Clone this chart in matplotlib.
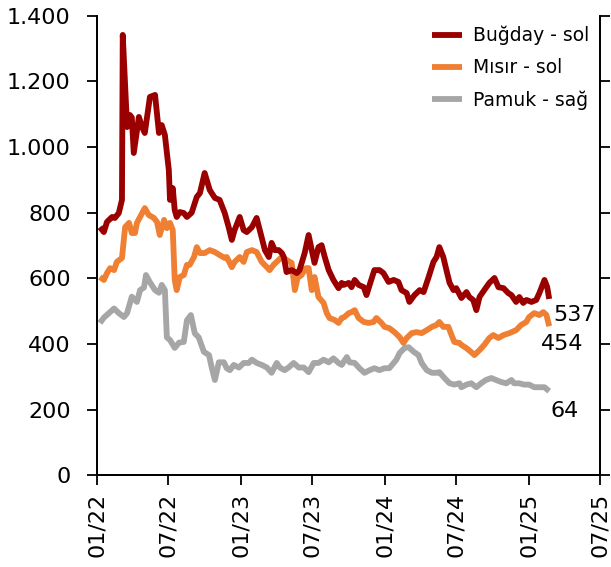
import matplotlib
matplotlib.use("Agg")
import matplotlib.pyplot as plt
import matplotlib.dates as mdates
from matplotlib.ticker import FuncFormatter
import pandas as pd

# Buğday (sol eksen)
bugday_tarih = ['2022-01-08', '2022-01-18', '2022-01-26', '2022-02-08', '2022-02-15', '2022-02-25',
                '2022-03-05', '2022-03-07', '2022-03-18', '2022-03-25', '2022-03-30', '2022-04-04',
                '2022-04-17', '2022-04-25', '2022-05-02', '2022-05-15', '2022-05-28', '2022-06-07',
                '2022-06-14', '2022-06-22', '2022-07-02', '2022-07-05', '2022-07-12', '2022-07-17',
                '2022-07-22', '2022-07-30', '2022-08-09', '2022-08-17', '2022-08-29', '2022-09-11',
                '2022-09-19', '2022-10-01', '2022-10-14', '2022-10-27', '2022-11-08', '2022-11-21',
                '2022-12-01', '2022-12-09', '2022-12-16', '2022-12-29', '2023-01-08', '2023-01-16',
                '2023-01-29', '2023-02-10', '2023-02-18', '2023-03-03', '2023-03-13', '2023-03-20',
                '2023-03-28', '2023-04-07', '2023-04-15', '2023-04-20', '2023-04-27', '2023-05-10',
                '2023-05-23', '2023-05-30', '2023-06-12', '2023-06-22', '2023-06-30', '2023-07-07',
                '2023-07-17', '2023-07-25', '2023-08-02', '2023-08-12', '2023-08-24', '2023-09-06',
                '2023-09-14', '2023-09-19', '2023-10-02', '2023-10-09', '2023-10-17', '2023-10-27',
                '2023-11-09', '2023-11-16', '2023-11-24', '2023-12-06', '2023-12-19', '2023-12-29',
                '2024-01-11', '2024-01-24', '2024-02-05', '2024-02-13', '2024-02-26', '2024-03-04',
                '2024-03-17', '2024-03-30', '2024-04-09', '2024-04-21', '2024-05-04', '2024-05-12',
                '2024-05-19', '2024-05-29', '2024-06-06', '2024-06-14', '2024-06-24', '2024-07-01',
                '2024-07-14', '2024-07-27', '2024-08-03', '2024-08-13', '2024-08-21', '2024-08-29',
                '2024-09-10', '2024-09-23', '2024-10-06', '2024-10-16', '2024-10-29', '2024-11-10',
                '2024-11-18', '2024-11-30', '2024-12-08', '2024-12-18', '2024-12-26', '2025-01-08',
                '2025-01-20', '2025-01-28', '2025-02-10', '2025-02-17', '2025-02-22']
bugday = [756, 741, 772, 787, 784, 799,
          839, 1342, 1061, 1098, 1090, 982,
          1092, 1061, 1043, 1153, 1159, 1043,
          1067, 1037, 930, 839, 875, 808,
          787, 802, 799, 787, 800, 848,
          860, 921, 869, 845, 839, 799,
          756, 717, 747, 787, 747, 741,
          756, 784, 747, 686, 665, 708,
          686, 686, 677, 665, 619, 625,
          616, 625, 677, 732, 686, 647,
          695, 701, 665, 625, 595, 570,
          586, 580, 586, 573, 595, 580,
          573, 549, 580, 625, 625, 616,
          589, 595, 589, 564, 555, 528,
          549, 564, 558, 601, 650, 665,
          695, 665, 625, 586, 564, 570,
          540, 558, 543, 534, 503, 543,
          564, 586, 601, 573, 570, 555,
          549, 528, 543, 525, 534, 528,
          534, 555, 595, 573, 537]

# Mısır (sol eksen)
misir_tarih = ['2022-01-08', '2022-01-18', '2022-01-26', '2022-02-03', '2022-02-13', '2022-02-20',
               '2022-03-05', '2022-03-13', '2022-03-23', '2022-03-30', '2022-04-07', '2022-04-12',
               '2022-04-20', '2022-05-02', '2022-05-12', '2022-05-25', '2022-06-02', '2022-06-09',
               '2022-06-20', '2022-06-27', '2022-07-05', '2022-07-12', '2022-07-17', '2022-07-22',
               '2022-07-30', '2022-08-09', '2022-08-17', '2022-08-24', '2022-09-04', '2022-09-11',
               '2022-09-19', '2022-10-01', '2022-10-14', '2022-10-27', '2022-11-08', '2022-11-21',
               '2022-11-26', '2022-12-09', '2022-12-16', '2022-12-29', '2023-01-08', '2023-01-16',
               '2023-01-29', '2023-02-10', '2023-02-23', '2023-03-08', '2023-03-15', '2023-03-25',
               '2023-04-07', '2023-04-15', '2023-04-27', '2023-05-10', '2023-05-18', '2023-05-25',
               '2023-06-04', '2023-06-15', '2023-06-22', '2023-06-30', '2023-07-07', '2023-07-17',
               '2023-07-30', '2023-08-07', '2023-08-14', '2023-08-27', '2023-09-06', '2023-09-14',
               '2023-09-21', '2023-10-02', '2023-10-09', '2023-10-17', '2023-10-27', '2023-11-09',
               '2023-11-21', '2023-12-04', '2023-12-11', '2023-12-24', '2024-01-01', '2024-01-13',
               '2024-01-26', '2024-02-08', '2024-02-18', '2024-02-26', '2024-03-10', '2024-03-22',
               '2024-04-04', '2024-04-17', '2024-04-30', '2024-05-12', '2024-05-19', '2024-05-29',
               '2024-06-11', '2024-06-19', '2024-06-26', '2024-07-09', '2024-07-14', '2024-07-27',
               '2024-08-08', '2024-08-16', '2024-08-29', '2024-09-10', '2024-09-23', '2024-10-03',
               '2024-10-16', '2024-10-29', '2024-11-13', '2024-11-30', '2024-12-13', '2024-12-26',
               '2025-01-02', '2025-01-15', '2025-01-28', '2025-02-07', '2025-02-15', '2025-02-22']
misir = [604, 595, 616, 631, 625, 650,
         662, 756, 769, 738, 738, 769,
         787, 814, 793, 784, 772, 732,
         778, 753, 769, 747, 595, 564,
         604, 610, 641, 641, 665, 695,
         677, 677, 686, 680, 671, 662,
         665, 634, 650, 665, 650, 680,
         686, 680, 650, 634, 625, 641,
         656, 665, 656, 647, 564, 601,
         610, 631, 631, 564, 604, 543,
         525, 494, 479, 473, 464, 479,
         482, 494, 497, 503, 479, 467,
         464, 467, 479, 464, 452, 448,
         436, 421, 403, 418, 433, 436,
         433, 442, 452, 458, 467, 452,
         452, 427, 406, 403, 397, 387,
         375, 366, 381, 397, 418, 427,
         418, 427, 433, 442, 458, 467,
         482, 494, 488, 497, 488, 454]

# Pamuk (sağ eksen)
pamuk_tarih = ['2022-01-08', '2022-01-18', '2022-01-31', '2022-02-13', '2022-02-25', '2022-03-10',
               '2022-03-18', '2022-03-30', '2022-04-12', '2022-04-20', '2022-04-30', '2022-05-05',
               '2022-05-15', '2022-05-28', '2022-06-07', '2022-06-14', '2022-06-22', '2022-06-27',
               '2022-07-05', '2022-07-17', '2022-07-28', '2022-08-09', '2022-08-17', '2022-08-27',
               '2022-09-06', '2022-09-16', '2022-09-29', '2022-10-12', '2022-10-19', '2022-10-27',
               '2022-11-06', '2022-11-19', '2022-11-26', '2022-12-04', '2022-12-14', '2022-12-27',
               '2023-01-08', '2023-01-21', '2023-01-29', '2023-02-10', '2023-02-23', '2023-03-08',
               '2023-03-20', '2023-04-02', '2023-04-10', '2023-04-22', '2023-05-02', '2023-05-15',
               '2023-05-28', '2023-06-10', '2023-06-22', '2023-07-05', '2023-07-17', '2023-07-30',
               '2023-08-12', '2023-08-24', '2023-09-06', '2023-09-14', '2023-09-27', '2023-10-04',
               '2023-10-17', '2023-10-29', '2023-11-11', '2023-11-24', '2023-12-06', '2023-12-19',
               '2024-01-01', '2024-01-13', '2024-01-24', '2024-01-31', '2024-02-08', '2024-02-21',
               '2024-03-02', '2024-03-15', '2024-03-27', '2024-04-04', '2024-04-17', '2024-04-30',
               '2024-05-12', '2024-05-19', '2024-06-01', '2024-06-14', '2024-06-26', '2024-07-09',
               '2024-07-14', '2024-07-27', '2024-08-08', '2024-08-21', '2024-09-02', '2024-09-14',
               '2024-09-28', '2024-10-10', '2024-10-23', '2024-11-05', '2024-11-18', '2024-11-25',
               '2024-12-08', '2024-12-20', '2025-01-02', '2025-01-15', '2025-01-28', '2025-02-10',
               '2025-02-22']
pamuk = [116, 120, 123.5, 127, 123.5, 120.5,
         123.5, 136, 132, 141, 143, 152.5,
         147, 141, 139, 145, 141, 105,
         103, 97, 101, 101.5, 118, 122,
         108, 105, 94, 91.5, 82, 72.5,
         86, 86, 81.5, 80, 84, 82,
         85.5, 85.5, 88, 85.5, 84, 82,
         78, 85.5, 82, 80, 82, 85.5,
         82, 82, 78.5, 85.5, 85.5, 88,
         86, 89, 85.5, 84, 90, 86,
         85.5, 81.5, 78, 80, 81.5, 80,
         81.5, 81.5, 85.5, 88, 93, 97,
         97.5, 94, 91.5, 85.5, 80, 78,
         78, 78.5, 74, 70, 69, 70,
         67, 69, 70, 67, 70, 72.5,
         74, 72.5, 71, 70, 72.5, 70,
         70, 69, 69, 67, 67, 67,
         64]

sol_ticks = [0, 200, 400, 600, 800, 1000, 1200, 1400]
sag_ticks = [0, 50, 100, 150, 200, 250, 300, 350]

renk_bugday = '#9A0000'
renk_misir = '#EF8033'
renk_pamuk = '#A6A6A6'

plt.rcParams['font.family'] = ['DejaVu Sans']

fig = plt.figure(figsize=(6.11, 5.67), dpi=100)
ax = fig.add_axes([0.159, 0.162, 0.823, 0.81])
ax2 = ax.twinx()

x_b = pd.to_datetime(bugday_tarih)
x_m = pd.to_datetime(misir_tarih)
x_p = pd.to_datetime(pamuk_tarih)

lw = 4.2
l1, = ax.plot(x_b, bugday, color=renk_bugday, lw=lw, solid_joinstyle='round', solid_capstyle='butt', label='Buğday - sol', zorder=3)
l2, = ax.plot(x_m, misir, color=renk_misir, lw=lw, solid_joinstyle='round', solid_capstyle='butt', label='Mısır - sol', zorder=2)
l3, = ax2.plot(x_p, pamuk, color=renk_pamuk, lw=lw, solid_joinstyle='round', solid_capstyle='butt', label='Pamuk - sağ')

# gray line behind the left-axis lines
ax.set_zorder(ax2.get_zorder() + 1)
ax.patch.set_visible(False)

ax.set_ylim(0, 1400)
ax.set_yticks(sol_ticks)
ax.yaxis.set_major_formatter(FuncFormatter(lambda v, p: f"{int(v):,}".replace(",", ".")))
ax2.set_ylim(0, 350)
ax2.set_yticks(sag_ticks)
ax2.set_yticklabels([])

ax.set_xlim(pd.Timestamp('2022-01-01'), pd.Timestamp('2025-07-01'))
ax.xaxis.set_major_locator(mdates.MonthLocator(bymonth=[1, 7]))
ax.xaxis.set_major_formatter(mdates.DateFormatter('%m/%y'))
plt.setp(ax.get_xticklabels(), rotation=90)

for a in (ax, ax2):
    a.spines['top'].set_visible(False)
    for s in a.spines.values():
        s.set_linewidth(1.3)
ax.tick_params(axis='y', direction='out', length=7, width=1.3, labelsize=16, pad=12)
ax.tick_params(axis='x', direction='out', length=7, width=1.3, labelsize=16, pad=6)
ax2.tick_params(axis='y', direction='out', length=7, width=1.3)

# son değer etiketleri
ax.annotate(f"{bugday[-1]:.0f}", (x_b[-1], bugday[-1]), xytext=(4, -16), textcoords='offset pixels',
            fontsize=16, va='center', ha='left')
ax.annotate(f"{misir[-1]:.0f}", (x_m[-1], misir[-1]), xytext=(-8, -18), textcoords='offset pixels',
            fontsize=16, va='center', ha='left')
ax2.annotate(f"{pamuk[-1]:.0f}", (x_p[-1], pamuk[-1]), xytext=(1, -20), textcoords='offset pixels',
             fontsize=16, va='center', ha='left')

ax.legend(handles=[l1, l2, l3], loc='upper left', bbox_to_anchor=(0.651, 0.995), frameon=False,
          fontsize=13.5, handlelength=1.6, handletextpad=0.6, labelspacing=0.7, borderaxespad=0)

fig.savefig('out.png', dpi=100)
